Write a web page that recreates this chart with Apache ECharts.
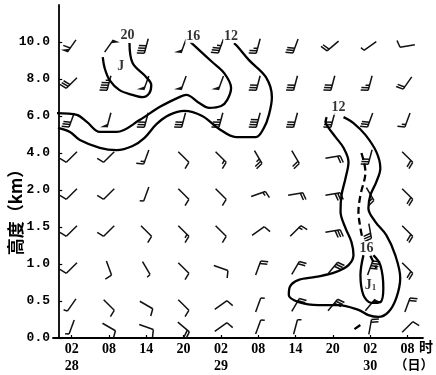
<!DOCTYPE html>
<html>
<head>
<meta charset="utf-8">
<script src="https://cdn.jsdelivr.net/npm/echarts@6/dist/echarts.min.js"></script>
<style>
html, body { margin: 0; padding: 0; background: #fff; }
#chart { width: 436px; height: 375px; }
</style>
</head>
<body>
<div id="chart"></div>
<script>
// Observation times: hours after 00 on the 28th (02, 08, 14, 20 each day)
const obsHours = [2, 8, 14, 20, 26, 32, 38, 44, 50, 56];
// Height levels (km), one row each, bottom to top
const levelLabels = ['0.0', '0.5', '1.0', '1.5', '2.0', '4.0', '6.0', '8.0', '10.0'];

// Wind barbs per level: staff direction (deg, clockwise from up) and speed (m/s)
const dirL8 = [215, 35, 195, 200, 200, 195, 200, 230, 235, 260];
const spdL8 = [24, 20, 16, 20, 14, 10, 12, 8, 2, 4];
const dirL7 = [225, 195, 200, 200, 200, 195, 195, 195, 195, 215];
const spdL7 = [12, 18, 20, 20, 20, 12, 12, 12, 10, 8];
const dirL6 = [200, 195, 195, 195, 195, 195, 195, 195, 200, 200];
const spdL6 = [12, 20, 12, 12, 14, 16, 12, 12, 12, 6];
const dirL5 = [225, 225, 200, 135, 135, 150, 150, 80, 195, 135];
const spdL5 = [4, 4, 6, 4, 6, 10, 8, 8, 12, 8];
const dirL4 = [225, 225, 200, 135, 135, 70, 80, 80, 150, 135];
const spdL4 = [4, 4, 2, 4, 4, 6, 8, 12, 6, 8];
const dirL3 = [225, 225, 135, 135, 135, 55, 45, 80, 170, 135];
const spdL3 = [4, 4, 4, 6, 4, 4, 6, 12, 12, 8];
const dirL2 = [225, 160, 150, 135, 110, 20, 30, 40, 20, 135];
const spdL2 = [4, 4, 2, 4, 4, 8, 8, 12, 16, 8];
const dirL1 = [215, 135, 120, 135, 55, 20, 30, 40, 40, 20];
const spdL1 = [2, 4, 4, 4, 4, 2, 8, 12, 20, 8];
const dirL0 = [200, 120, 110, 130, 55, 20, 15, null, 10, 45];
const spdL0 = [2, 4, 4, 8, 4, 2, 2, null, 8, 4];

// Isotachs (m/s) as [hour, level index] paths
const isotach20 = [[11.3, 7.97], [11.8, 7.43], [14.0, 7.05], [14.8, 6.84], [14.5, 6.62], [13.4, 6.51],
  [11.8, 6.57], [9.7, 6.70], [8.1, 6.97], [7.3, 7.30], [7.0, 7.59]];
const isotach16Upper = [[-0.36, 6.08], [2.84, 6.03], [4.44, 5.84], [6.52, 5.57], [9.24, 5.57], [12.92, 5.89],
  [16.12, 6.24], [19.32, 6.51], [20.44, 6.57], [22.52, 6.35], [24.12, 6.22], [26.04, 6.27], [27.0, 6.43],
  [27.64, 6.76], [26.52, 7.16], [24.6, 7.46], [22.52, 7.78], [21.08, 8.0]];
const isotach12Upper = [[-0.2, 5.68], [1.72, 5.57], [3.32, 5.35], [6.52, 5.14], [9.24, 5.08], [11.8, 5.19],
  [13.72, 5.41], [15.64, 5.78], [17.72, 6.03], [20.12, 6.14], [23.0, 6.0], [25.72, 5.65], [28.44, 5.43],
  [31.64, 5.43], [32.92, 5.68], [33.72, 6.03], [34.2, 6.51], [33.24, 7.05], [30.52, 7.51], [28.6, 7.89], [28.1, 7.97]];
const isotach12Lower = [[43.0, 5.97], [42.84, 5.84], [43.32, 5.68], [44.44, 5.43], [45.72, 5.14], [46.52, 4.76],
  [46.04, 4.32], [45.4, 3.86], [45.24, 3.41], [46.04, 2.97], [47.0, 2.59], [47.32, 2.24], [46.52, 1.97],
  [44.44, 1.78], [41.24, 1.65], [38.52, 1.57], [37.08, 1.38], [36.92, 1.16], [38.52, 0.97], [41.72, 0.89],
  [44.92, 0.89], [48.12, 0.76], [49.72, 0.62], [51.32, 0.57], [52.92, 0.70], [54.2, 1.08], [54.84, 1.62],
  [54.04, 2.24], [52.6, 2.78], [50.84, 3.14], [49.72, 3.51], [50.04, 3.86], [51.0, 4.22], [51.64, 4.59],
  [51.0, 5.03], [49.24, 5.49], [47.32, 5.81], [45.72, 5.97]];
const isotach16Lower = [[48.92, 2.24], [48.44, 1.70], [48.92, 1.16], [50.2, 0.95], [51.64, 0.97],
  [52.12, 1.35], [51.64, 1.97], [50.52, 2.24]];
// Jet axis (dashed), broken where the label sits
const jetAxis = [[48.6, 5.0], [49.24, 4.49], [48.44, 3.86], [48.12, 3.41], [48.44, 2.97], [48.76, 2.70],
  '-', [50.04, 2.22], [51.0, 1.89], '-', [47.48, 0.24], [48.92, 0.41]];

// Text annotations: isotach values and jet cores
const isotachLabels = [[11.0, 8.19, '20'], [21.56, 8.16, '16'], [27.64, 8.16, '12'],
  [44.92, 6.22, '12'], [49.4, 2.43, '16']];
const jetLabels = [[9.88, 7.35, '{j|J}'], [50.04, 1.43, '{j|J}{s|1}']];

const dirRows = [dirL0, dirL1, dirL2, dirL3, dirL4, dirL5, dirL6, dirL7, dirL8];
const spdRows = [spdL0, spdL1, spdL2, spdL3, spdL4, spdL5, spdL6, spdL7, spdL8];
const barbData = [];
dirRows.forEach((row, lv) => {
  row.forEach((d, i) => {
    if (d != null) barbData.push([obsHours[i], lv, d, spdRows[lv][i]]);
  });
});

const INK = '#111';
const BARB_W = 1.5;

function renderBarb(params, api) {
  const p = api.coord([api.value(0), api.value(1)]);
  const d = api.value(2), s = api.value(3);
  const bottom = params.coordSys.y + params.coordSys.height;
  const cx = p[0], cy = Math.min(p[1] + 4, bottom - 11);
  const a = d * Math.PI / 180;
  const ux = Math.sin(a), uy = -Math.cos(a);
  const L = 15;
  const sx = cx - ux * L / 2, sy = cy - uy * L / 2;
  const tx = sx + ux * L, ty = sy + uy * L;
  // feathers on the clockwise side, leaning slightly toward the tip
  let fx = -uy + 0.25 * ux, fy = ux + 0.25 * uy;
  const n = Math.hypot(fx, fy); fx /= n; fy /= n;
  const kids = [{ type: 'line', shape: { x1: sx, y1: sy, x2: tx, y2: ty },
    style: { stroke: INK, lineWidth: BARB_W } }];
  let rest = s, pos = 0;
  const gap = 2.6;
  while (rest >= 20) {
    const b1 = [tx - ux * pos, ty - uy * pos];
    const b2 = [tx - ux * (pos + 4), ty - uy * (pos + 4)];
    const apex = [b1[0] + fx * 7, b1[1] + fy * 7];
    kids.push({ type: 'polygon', shape: { points: [b1, apex, b2] }, style: { fill: INK } });
    pos += 5; rest -= 20;
  }
  while (rest >= 4) {
    const bx = tx - ux * pos, by = ty - uy * pos;
    kids.push({ type: 'line', shape: { x1: bx, y1: by, x2: bx + fx * 7.5, y2: by + fy * 7.5 },
      style: { stroke: INK, lineWidth: BARB_W } });
    pos += gap; rest -= 4;
  }
  if (rest >= 2) {
    const bx = tx - ux * pos, by = ty - uy * pos;
    kids.push({ type: 'line', shape: { x1: bx, y1: by, x2: bx + fx * 4, y2: by + fy * 4 },
      style: { stroke: INK, lineWidth: BARB_W } });
  }
  return { type: 'group', children: kids };
}

const contourStyle = { color: '#000', width: 2.3 };
function contour(data) {
  return { type: 'line', data: data, smooth: 0.35, symbol: 'none', lineStyle: contourStyle,
    silent: true, z: 3, animation: false };
}

const chart = echarts.init(document.getElementById('chart'), null, { renderer: 'canvas' });
chart.setOption({
  animation: false,
  backgroundColor: '#fff',
  grid: { left: 53, right: 13, top: 5, bottom: 37, containLabel: false },
  xAxis: {
    type: 'value', min: -1, max: 58.5,
    splitLine: { show: false },
    axisLine: { lineStyle: { color: '#000', width: 1.8 } },
    axisTick: { show: true, inside: true, length: 3, customValues: obsHours,
      lineStyle: { color: '#000', width: 1.2 } },
    axisLabel: {
      customValues: obsHours, margin: 3, color: '#000', lineHeight: 17,
      fontFamily: 'Liberation Serif', fontWeight: 'bold', fontSize: 14,
      formatter: function (v) {
        const h = ((v % 24) + 24) % 24;
        const hh = (h < 10 ? '0' : '') + h;
        return h === 2 ? hh + '\n' + (28 + Math.floor(v / 24)) : hh;
      }
    }
  },
  yAxis: {
    type: 'value', min: 0, max: 9,
    splitLine: { show: false },
    axisLine: { lineStyle: { color: '#000', width: 1.8 } },
    axisTick: { show: true, inside: true, length: 3, customValues: [0, 1, 2, 3, 4, 5, 6, 7, 8],
      lineStyle: { color: '#000', width: 1.2 } },
    axisLabel: {
      customValues: [0, 1, 2, 3, 4, 5, 6, 7, 8], margin: 3, color: '#000',
      fontFamily: 'Liberation Mono', fontWeight: 'bold', fontSize: 13,
      formatter: function (v) { return levelLabels[v]; }
    }
  },
  graphic: [
    { type: 'text', x: 16, y: 208, rotation: Math.PI / 2,
      style: { text: '高度（km）', fill: '#000', font: 'bold 17px "Noto Sans CJK SC"',
        align: 'center', verticalAlign: 'middle' } },
    { type: 'text', x: 426, y: 347,
      style: { text: '时', fill: '#000', font: 'bold 14px "Noto Sans CJK SC"',
        align: 'center', verticalAlign: 'middle' } },
    { type: 'text', x: 414, y: 364,
      style: { text: '（日）', fill: '#000', font: 'bold 13px "Noto Sans CJK SC"',
        align: 'center', verticalAlign: 'middle' } }
  ],
  series: [
    { type: 'custom', renderItem: renderBarb, data: barbData, z: 2, silent: true,
      encode: { x: 0, y: 1 } },
    contour(isotach20),
    contour(isotach16Upper),
    contour(isotach12Upper),
    contour(isotach12Lower),
    contour(isotach16Lower),
    { type: 'line', data: jetAxis, smooth: 0.35, symbol: 'none', connectNulls: false,
      lineStyle: { color: '#000', width: 2.3, type: [7, 4] }, silent: true, z: 3 },
    { type: 'scatter', data: isotachLabels, symbolSize: 0, z: 5, silent: true,
      label: { show: true, position: 'inside', color: '#000', fontFamily: 'Liberation Serif',
        fontWeight: 'bold', fontSize: 14, backgroundColor: '#fff', padding: [0, 1],
        formatter: function (p) { return p.data[2]; } } },
    { type: 'scatter', data: jetLabels, symbolSize: 0, z: 5, silent: true,
      label: { show: true, position: 'inside', color: '#000',
        formatter: function (p) { return p.data[2]; },
        rich: {
          j: { fontFamily: 'Liberation Serif', fontWeight: 'bold', fontSize: 14, color: '#000' },
          s: { fontFamily: 'Liberation Serif', fontWeight: 'bold', fontSize: 9, color: '#000',
            verticalAlign: 'bottom', padding: [6, 0, 0, 0] }
        } } }
  ]
});
</script>
</body>
</html>
